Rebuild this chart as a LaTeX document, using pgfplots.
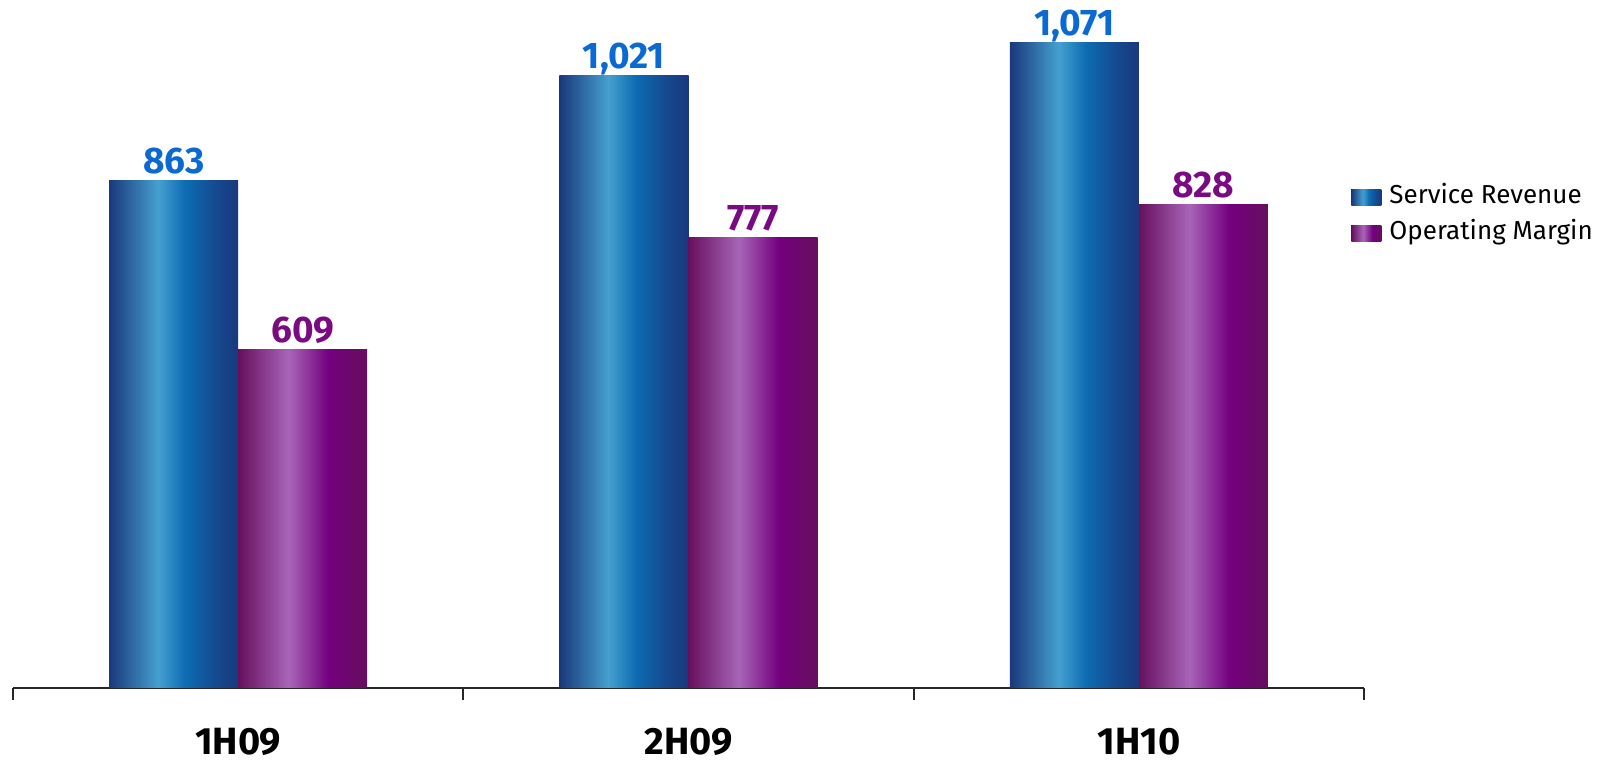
\documentclass[border=0pt]{standalone}
\usepackage{pgfplots}
\pgfplotsset{compat=1.18}
\usepackage{fontspec}
\setmainfont{Fira Sans}

% bar colours
\definecolor{navyA}{HTML}{1A387C}
\definecolor{skyB}{HTML}{45A0D0}
\definecolor{midC}{HTML}{0C6CB2}
\definecolor{blueD}{HTML}{144A90}
\definecolor{plumA}{HTML}{660F5E}
\definecolor{lilacB}{HTML}{A865B8}
\definecolor{violC}{HTML}{74007F}
\definecolor{revLabel}{HTML}{0A6AD2}
\definecolor{marLabel}{HTML}{7A0A82}

% cylinder-like horizontal gradients (25bp..75bp spans the bar)
\pgfdeclarehorizontalshading{blueBar}{100bp}{color(0bp)=(navyA); color(25bp)=(navyA);
  color(44bp)=(skyB); color(54.5bp)=(midC); color(66bp)=(blueD); color(75bp)=(navyA); color(100bp)=(navyA)}
\pgfdeclarehorizontalshading{purpleBar}{100bp}{color(0bp)=(plumA); color(25bp)=(plumA);
  color(44.5bp)=(lilacB); color(60bp)=(violC); color(75bp)=(plumA); color(100bp)=(plumA)}

% bar half width in pt: 0.14325 axis units * 675.5pt / 3 units
\pgfplotsset{
  revbar/.style={ybar, bar width=0.2865, bar shift=-0.14325, draw=none, shading=blueBar,
    nodes near coords, nodes near coords style={text=revLabel, xshift=-32.25pt},
    legend image code/.code={\fill[shading=blueBar] (0pt,-4pt) rectangle (15pt,4pt);}},
  marbar/.style={ybar, bar width=0.2865, bar shift=0.14325, draw=none, shading=purpleBar,
    nodes near coords, nodes near coords style={text=marLabel, xshift=32.25pt},
    legend image code/.code={\fill[shading=purpleBar] (0pt,-4pt) rectangle (15pt,4pt);}},
}

\begin{document}
\begin{tikzpicture}
\path[use as bounding box] (0,0) rectangle (811.5pt,381.5pt);
\begin{axis}[
  at={(6.5pt,37.5pt)}, anchor=south west,
  width=675.5pt, height=344pt, scale only axis,
  xmin=-0.5, xmax=2.5, ymin=100, ymax=1135,
  axis x line*=bottom, axis y line=none,
  axis line style={line width=1pt, color=black!85},
  xtick={-0.5,0.5,1.5,2.5}, xticklabels={},
  tick align=outside, major tick length=6pt,
  tick style={line width=1pt, color=black!85},
  extra x ticks={0,1,2},
  extra x tick labels={1H09,2H09,1H10},
  extra x tick style={major tick length=0pt,
    tick label style={font=\fontsize{19}{21}\selectfont\bfseries, anchor=base, inner sep=0pt, yshift=-33.5pt}},
  clip=false,
  /pgf/number format/.cd, 1000 sep={,}, assume math mode=true, /pgfplots/.cd,
  nodes near coords style={font=\fontsize{18.5}{20}\selectfont\bfseries, anchor=base, yshift=3.5pt},
  legend cell align=left,
  legend style={draw=none, fill=none, at={(0.9904,0.6868)}, anchor=west, inner sep=0pt,
    row sep=6pt, font=\fontsize{13}{14}\selectfont,
    nodes={inner sep=0pt, text height=9pt, text depth=3pt}},
]
% one path per bar so that each bar gets its own gradient
\addplot[revbar] coordinates {(0,863)};
\addlegendentry{\hspace{4pt}Service Revenue}
\addplot[marbar] coordinates {(0,609)};
\addlegendentry{\hspace{4pt}Operating Margin}
\addplot[revbar, forget plot] coordinates {(1,1021)};
\addplot[marbar, forget plot] coordinates {(1,777)};
\addplot[revbar, forget plot] coordinates {(2,1071)};
\addplot[marbar, forget plot] coordinates {(2,828)};
\end{axis}
\end{tikzpicture}
\end{document}
